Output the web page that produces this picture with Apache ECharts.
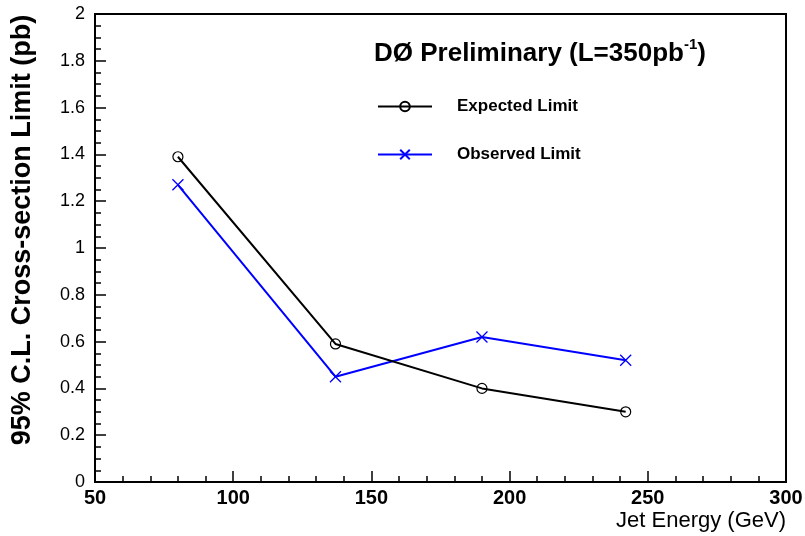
<!DOCTYPE html>
<html>
<head>
<meta charset="utf-8">
<script src="https://cdn.jsdelivr.net/npm/echarts@6/dist/echarts.min.js"></script>
<style>
  html, body { margin: 0; padding: 0; background: #fff; }
  #chart { width: 805px; height: 536px; }
</style>
</head>
<body>
<div id="chart"></div>
<script>
// jet energy points (GeV)
const jetEnergy = [80, 137, 190, 242];
// 95% C.L. limits (pb)
const expectedLimit = [1.39, 0.59, 0.40, 0.30];
const observedLimit = [1.27, 0.45, 0.62, 0.52];

const FONT = 'Liberation Sans, Arial, sans-serif';

const chart = echarts.init(document.getElementById('chart'));

const toPairs = (xs, ys) => xs.map((x, i) => [x, ys[i]]);

chart.setOption({
    backgroundColor: '#fff',
    animation: false,
    title: {
        left: 369,
        top: 32,
        text: '{t|DØ Preliminary (L=350pb}{s|-1}{t|)}',
        textStyle: {
            rich: {
                t: { fontFamily: FONT, fontWeight: 'bold', fontSize: 26, color: '#000' },
                s: { fontFamily: FONT, fontWeight: 'bold', fontSize: 15, color: '#000', verticalAlign: 'top', padding: [0, 0, 18, 0] },
            },
        },
    },
    legend: {
        orient: 'vertical',
        left: 372,
        top: 93,
        itemWidth: 54,
        itemHeight: 12,
        itemGap: 31,
        textStyle: {
            fontFamily: FONT,
            fontWeight: 'bold',
            fontSize: 17,
            color: '#000',
            padding: [0, 0, 0, 20],
        },
        data: ['Expected Limit', 'Observed Limit'],
    },
    grid: {
        left: 95,
        right: 19,
        top: 14,
        bottom: 54,
        outerBoundsMode: 'none',
        show: true,
        borderColor: '#000',
        borderWidth: 2,
    },
    xAxis: {
        type: 'value',
        min: 50,
        max: 300,
        interval: 50,
        name: 'Jet Energy (GeV)',
        nameLocation: 'end',
        nameGap: 0,
        nameTextStyle: {
            fontFamily: FONT,
            fontSize: 22,
            color: '#000',
            align: 'right',
            verticalAlign: 'top',
            padding: [28, 0, 0, 0],
        },
        axisLine: { onZero: false, lineStyle: { color: '#000', width: 2 } },
        axisTick: { inside: true, length: 11, lineStyle: { color: '#000', width: 1.5 } },
        minorTick: { show: true, splitNumber: 5, length: 6, lineStyle: { color: '#000', width: 1.5 } },
        splitLine: { show: false },
        axisLabel: {
            margin: 6,
            fontFamily: FONT,
            fontWeight: 'bold',
            fontSize: 20,
            color: '#000',
        },
    },
    yAxis: {
        type: 'value',
        min: 0,
        max: 2,
        interval: 0.2,
        name: '95% C.L. Cross-section Limit (pb)',
        nameLocation: 'middle',
        nameGap: 59,
        nameTextStyle: {
            fontFamily: FONT,
            fontWeight: 'bold',
            fontSize: 27,
            color: '#000',
            padding: [0, 0, 0, 36],
        },
        axisLine: { onZero: false, lineStyle: { color: '#000', width: 2 } },
        axisTick: { inside: true, length: 11, lineStyle: { color: '#000', width: 1.5 } },
        minorTick: { show: true, splitNumber: 4, length: 6, lineStyle: { color: '#000', width: 1.5 } },
        splitLine: { show: false },
        axisLabel: {
            margin: 10,
            fontFamily: FONT,
            fontSize: 18,
            color: '#000',
        },
    },
    series: [
        {
            name: 'Expected Limit',
            type: 'line',
            data: toPairs(jetEnergy, expectedLimit),
            symbol: 'circle',
            symbolSize: 10,
            lineStyle: { color: '#000', width: 2 },
            itemStyle: { color: 'rgba(0,0,0,0)', borderColor: '#000', borderWidth: 1.2 },
            z: 3,
        },
        {
            name: 'Observed Limit',
            type: 'line',
            data: toPairs(jetEnergy, observedLimit),
            symbol: 'path://M0,0L10,10M10,0L0,10',
            symbolSize: 11,
            lineStyle: { color: '#0000ff', width: 2 },
            itemStyle: { color: '#0000ff', borderColor: '#0000ff', borderWidth: 1.3 },
            z: 2,
        },
    ],
});
</script>
</body>
</html>
